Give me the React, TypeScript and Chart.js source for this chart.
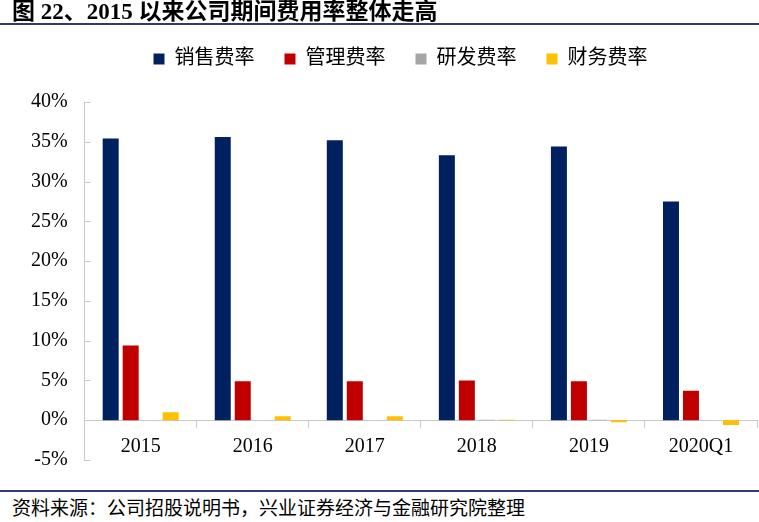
import React, { useEffect, useRef } from "react";
import { Chart, registerables } from "chart.js";

Chart.register(...registerables);

const categories = ["2015", "2016", "2017", "2018", "2019", "2020Q1"];
const salesRate = [35.4, 35.6, 35.2, 33.3, 34.4, 27.5];
const adminRate = [9.4, 4.9, 4.9, 5.0, 4.9, 3.7];
const rdRate = [0, 0, 0, 0.05, 0.05, 0];
const financeRate = [1.0, 0.5, 0.5, 0.05, -0.25, -0.6];
const seriesNames = ["销售费率", "管理费率", "研发费率", "财务费率"];
const yTicks = [-5, 0, 5, 10, 15, 20, 25, 30, 35, 40];

const serif = "'Liberation Serif', 'Times New Roman', 'Noto Sans CJK SC', serif";
const cjk = "'Liberation Serif', 'Noto Sans CJK SC', serif";

const innerTicks = {
  id: "innerTicks",
  afterDatasetsDraw(chart: any) {
    const y = chart.scales.y;
    const ctx = chart.ctx;
    ctx.save();
    ctx.strokeStyle = "#c8c8c8";
    ctx.lineWidth = 1;
    yTicks.forEach((v) => {
      const py = Math.round(y.getPixelForValue(v)) + 0.5;
      ctx.beginPath();
      ctx.moveTo(y.right, py);
      ctx.lineTo(y.right + 6, py);
      ctx.stroke();
    });
    ctx.restore();
  },
};

const legendGap = {
  id: "legendGap",
  beforeInit(chart: any) {
    const legend = chart.legend;
    if (!legend) return;
    const orig = legend.fit;
    legend.fit = function () {
      orig.bind(legend)();
      this.height += 23;
    };
  },
  afterLayout(chart: any) {
    const legend = chart.legend;
    if (!legend) return;
    legend.left += 15;
    legend.right += 15;
  },
};

export default function App() {
  const ref = useRef<HTMLCanvasElement>(null);
  useEffect(() => {
    if (!ref.current) return;
    const chart = new Chart(ref.current, {
      type: "bar",
      data: {
        labels: categories,
        datasets: [
          { label: seriesNames[0], data: salesRate, backgroundColor: "#002060" },
          { label: seriesNames[1], data: adminRate, backgroundColor: "#C00000" },
          { label: seriesNames[2], data: rdRate, backgroundColor: "#A5A5A5" },
          { label: seriesNames[3], data: financeRate, backgroundColor: "#FFC000" },
        ],
      },
      options: {
        animation: false,
        responsive: false,
        maintainAspectRatio: false,
        layout: { padding: { top: 10, right: 2, bottom: 10, left: 14 } },
        datasets: { bar: { categoryPercentage: 0.714, barPercentage: 0.8 } },
        plugins: {
          legend: {
            position: "top",
            labels: {
              boxWidth: 11,
              boxHeight: 11,
              padding: 30,
              color: "#000",
              font: { family: cjk, size: 20 },
            },
          },
          tooltip: { enabled: false },
        },
        scales: {
          x: {
            position: { y: 0 } as any,
            grid: { drawOnChartArea: false, drawTicks: true, tickLength: 7, color: "#c8c8c8", offset: true },
            border: { color: "#c8c8c8" },
            ticks: { color: "#000", font: { family: serif, size: 20 }, padding: 8 },
          },
          y: {
            min: -5,
            max: 40,
            afterBuildTicks: (scale: any) => {
              scale.ticks = yTicks.map((v) => ({ value: v }));
            },
            grid: { display: false, drawTicks: false },
            border: { color: "#c8c8c8" },
            ticks: {
              color: "#000",
              font: { family: serif, size: 20 },
              padding: 17,
              callback: (v: any) => `${v}%`,
            },
          },
        },
      },
      plugins: [innerTicks, legendGap],
    });
    return () => chart.destroy();
  }, []);

  return (
    <div style={{ position: "fixed", left: 0, top: 0, width: 759, height: 522, background: "#fff", overflow: "hidden" }}>
      <canvas ref={ref} width={759} height={480} style={{ position: "absolute", left: 0, top: 9 }} />
      <div
        style={{
          position: "absolute",
          left: 12,
          top: 0,
          fontFamily: "'Liberation Serif', 'Noto Sans CJK SC', serif",
          fontWeight: "bold",
          fontSize: 23,
          lineHeight: "23px",
          color: "#000",
          whiteSpace: "nowrap",
        }}
      >
        图 22、2015 以来公司期间费用率整体走高
      </div>
      <div style={{ position: "absolute", left: 0, top: 23, width: 759, height: 2, background: "#2f3b70" }} />
      <div style={{ position: "absolute", left: 0, top: 490, width: 759, height: 2, background: "#2f3b70" }} />
      <div
        style={{
          position: "absolute",
          left: 12,
          top: 496,
          fontFamily: "'Noto Sans CJK SC', serif",
          fontSize: 19,
          lineHeight: "22px",
          color: "#000",
          whiteSpace: "nowrap",
        }}
      >
        资料来源：公司招股说明书，兴业证券经济与金融研究院整理
      </div>
    </div>
  );
}
